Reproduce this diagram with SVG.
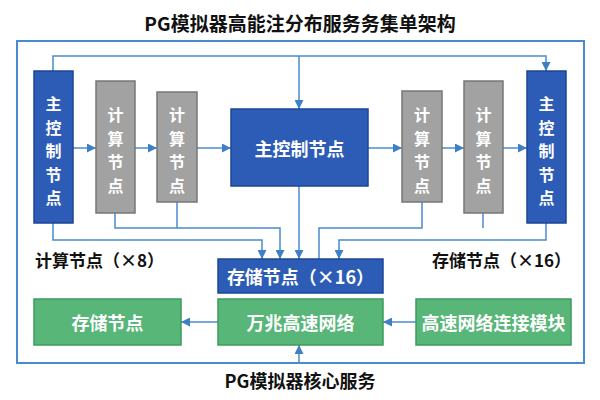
<svg xmlns="http://www.w3.org/2000/svg" width="600" height="400" viewBox="0 0 600 400">
<style>
.blue{fill:#2d5cb6;stroke:#1d4595;stroke-width:1.5}
.gray{fill:#a2a2a2;stroke:#777;stroke-width:1.5}
.green{fill:#57b678;stroke:#3b9c5c;stroke-width:1.5}
.wt{fill:#fff;font-family:"Noto Sans CJK SC","Liberation Sans",sans-serif;font-weight:bold;font-size:18px;text-anchor:middle;dominant-baseline:central}
.vt{fill:#fff;font-family:"Noto Sans CJK SC","Liberation Sans",sans-serif;font-weight:bold;font-size:16px;text-anchor:middle;dominant-baseline:central}
.lbl{fill:#111;font-family:"Noto Sans CJK SC","Liberation Sans",sans-serif;font-weight:bold;font-size:17px}
.conn{fill:none;stroke:#4a8ad0;stroke-width:1.5}
</style>
<defs>
<marker id="ah" viewBox="0 0 10 10" refX="10" refY="5" markerWidth="9" markerHeight="9" markerUnits="userSpaceOnUse" orient="auto">
<path d="M0 0 L10 5 L0 10 Z" fill="#3f7fc6"/>
</marker>
</defs>
<rect width="600" height="400" fill="#fff"/>
<text x="300" y="22" class="lbl" style="font-size:19px;text-anchor:middle;dominant-baseline:central">PG模拟器高能注分布服务务集单架构</text>
<rect x="17" y="41" width="567" height="322" fill="none" stroke="#4a8ad0" stroke-width="2"/>
<text x="300" y="380" class="lbl" style="font-size:18px;text-anchor:middle;dominant-baseline:central">PG模拟器核心服务</text>

<g id="connectors" class="conn">
<path d="M53 71 V56 H546 V71" marker-end="url(#ah)"/>
<path d="M299 56 V109" marker-end="url(#ah)"/>
<path d="M73 148 H96" marker-end="url(#ah)"/>
<path d="M135 148 H157" marker-end="url(#ah)"/>
<path d="M197 148 H231" marker-end="url(#ah)"/>
<path d="M368 148 H402" marker-end="url(#ah)"/>
<path d="M442 148 H464" marker-end="url(#ah)"/>
<path d="M503 148 H527" marker-end="url(#ah)"/>
<path d="M53 223 V240 H262 V259" marker-end="url(#ah)"/>
<path d="M115 213 V228 H280 V259" marker-end="url(#ah)"/>
<path d="M177 202 V228"/>
<path d="M299 186 V259" marker-end="url(#ah)"/>
<path d="M422 202 V228 H319 V259"/>
<path d="M483 213 V228"/>
<path d="M546 223 V240 H339 V259" marker-end="url(#ah)"/>
<path d="M416 322 H383" marker-end="url(#ah)"/>
<path d="M218 322 H181" marker-end="url(#ah)"/>
<path d="M299 363 V345" marker-end="url(#ah)"/>
</g>

<g id="master-left">
<rect x="34" y="71" width="39" height="152" class="blue"/>
<text class="vt"><tspan x="53.5" y="103">主</tspan><tspan x="53.5" y="126.5">控</tspan><tspan x="53.5" y="150">制</tspan><tspan x="53.5" y="173.5">节</tspan><tspan x="53.5" y="197">点</tspan></text>
</g>
<g id="compute-l1">
<rect x="96" y="81" width="39" height="132" class="gray"/>
<text class="vt"><tspan x="115.5" y="114">计</tspan><tspan x="115.5" y="137.5">算</tspan><tspan x="115.5" y="161">节</tspan><tspan x="115.5" y="184.5">点</tspan></text>
</g>
<g id="compute-l2">
<rect x="157" y="92" width="40" height="110" class="gray"/>
<text class="vt"><tspan x="177" y="114">计</tspan><tspan x="177" y="137.5">算</tspan><tspan x="177" y="161">节</tspan><tspan x="177" y="184.5">点</tspan></text>
</g>
<g id="master-center">
<rect x="231" y="109" width="137" height="77" class="blue"/>
<text class="wt" x="299.5" y="148">主控制节点</text>
</g>
<g id="compute-r1">
<rect x="402" y="91" width="40" height="111" class="gray"/>
<text class="vt"><tspan x="422" y="114">计</tspan><tspan x="422" y="137.5">算</tspan><tspan x="422" y="161">节</tspan><tspan x="422" y="184.5">点</tspan></text>
</g>
<g id="compute-r2">
<rect x="464" y="81" width="39" height="132" class="gray"/>
<text class="vt"><tspan x="483.5" y="114">计</tspan><tspan x="483.5" y="137.5">算</tspan><tspan x="483.5" y="161">节</tspan><tspan x="483.5" y="184.5">点</tspan></text>
</g>
<g id="master-right">
<rect x="527" y="71" width="39" height="152" class="blue"/>
<text class="vt"><tspan x="546.5" y="103">主</tspan><tspan x="546.5" y="126.5">控</tspan><tspan x="546.5" y="150">制</tspan><tspan x="546.5" y="173.5">节</tspan><tspan x="546.5" y="197">点</tspan></text>
</g>
<g id="storage-blue">
<rect x="218" y="259" width="165" height="34" class="blue"/>
<text class="wt" x="300.5" y="276">存储节点（×16）</text>
</g>
<g id="label-compute">
<text class="lbl" x="35" y="267">计算节点（×8）</text>
</g>
<g id="label-storage">
<text class="lbl" x="432" y="267">存储节点（×16）</text>
</g>
<g id="storage-green">
<rect x="34" y="299" width="147" height="46" class="green"/>
<text class="wt" x="107.5" y="322">存储节点</text>
</g>
<g id="network">
<rect x="218" y="299" width="165" height="46" class="green"/>
<text class="wt" x="300.5" y="322">万兆高速网络</text>
</g>
<g id="net-module">
<rect x="416" y="299" width="155" height="46" class="green"/>
<text class="wt" x="493.5" y="322">高速网络连接模块</text>
</g>
</svg>
